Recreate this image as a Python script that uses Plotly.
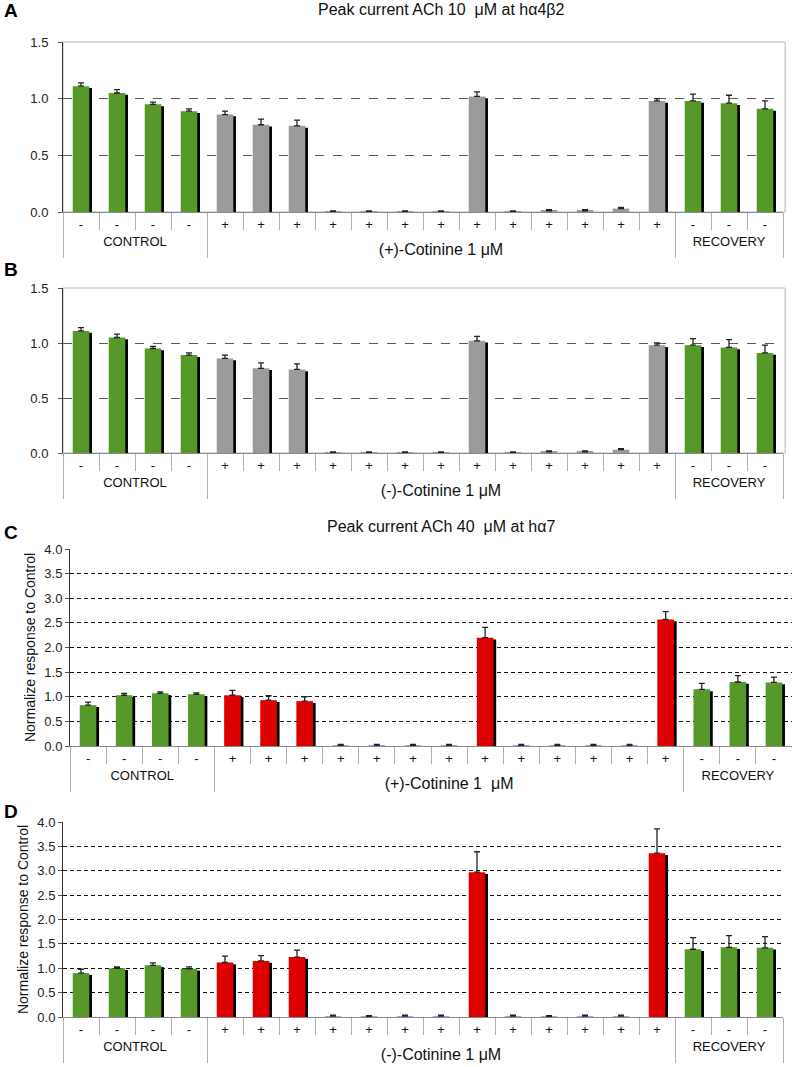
import plotly.graph_objects as go

# ---------------- data ----------------
n_control, n_cot, n_rec = 4, 13, 3
treat = ["-"] * n_control + ["+"] * n_cot + ["-"] * n_rec

a_vals = [1.11, 1.05, 0.95, 0.89, 0.86, 0.77, 0.76, 0.005, 0.005, 0.005, 0.005,
          1.02, 0.005, 0.01, 0.01, 0.03, 0.98, 0.98, 0.96, 0.91]
a_err = [0.03, 0.03, 0.02, 0.02, 0.03, 0.05, 0.05, 0.005, 0.005, 0.005, 0.005,
         0.04, 0.005, 0.01, 0.01, 0.01, 0.02, 0.06, 0.07, 0.07]

b_vals = [1.11, 1.05, 0.95, 0.89, 0.86, 0.77, 0.76, 0.005, 0.005, 0.005, 0.005,
          1.02, 0.005, 0.01, 0.01, 0.03, 0.98, 0.98, 0.96, 0.91]
b_err = [0.03, 0.03, 0.02, 0.02, 0.03, 0.05, 0.05, 0.005, 0.005, 0.005, 0.005,
         0.04, 0.005, 0.01, 0.01, 0.01, 0.02, 0.06, 0.07, 0.07]

c_vals = [0.83, 1.03, 1.07, 1.05, 1.03, 0.93, 0.91, 0.01, 0.01, 0.01, 0.01,
          2.20, 0.01, 0.01, 0.01, 0.01, 2.57, 1.15, 1.30, 1.29]
c_err = [0.06, 0.04, 0.03, 0.03, 0.10, 0.09, 0.09, 0.02, 0.02, 0.02, 0.02,
         0.21, 0.02, 0.02, 0.02, 0.02, 0.16, 0.12, 0.13, 0.11]

d_vals = [0.90, 1.00, 1.06, 0.99, 1.12, 1.15, 1.23, 0.02, 0.01, 0.02, 0.02,
          2.97, 0.02, 0.01, 0.02, 0.02, 3.36, 1.39, 1.43, 1.42]
d_err = [0.08, 0.03, 0.05, 0.04, 0.13, 0.11, 0.14, 0.02, 0.02, 0.02, 0.02,
         0.42, 0.02, 0.02, 0.02, 0.02, 0.50, 0.24, 0.24, 0.23]

titles = ["Peak current ACh 10 \u00a0μM at hα4β2", "Peak current ACh 40 \u00a0μM at hα7"]
cot_labels = ["(+)-Cotinine 1 μM", "(-)-Cotinine 1 μM", "(+)-Cotinine 1 \u00a0μM", "(-)-Cotinine 1 μM"]
ytitle = "Normalize response to Control"
yticks_ab = [0.0, 0.5, 1.0, 1.5]
yticks_cd = [0.0, 0.5, 1.0, 1.5, 2.0, 2.5, 3.0, 3.5, 4.0]
grid_cd = [0.5, 1.0, 1.5, 2.0, 2.5, 3.0, 3.5]

# ---------------- style ----------------
FONT = "Liberation Sans, Arial, sans-serif"
GREEN = "#57982a"
GRAY = "#9b9b9b"
RED = "#dc0000"
LAV = "#a0a0f0"
W, H = 793, 1067

def px_x(p):
    return p / W

def px_y(p):
    return 1 - p / H

def make_x(cot_label):
    zw = "\u200b"  # zero-width marks keep repeated +/- categories distinct
    groups, subs = [], []
    for i, t in enumerate(treat):
        if i < n_control:
            g = "CONTROL"
        elif i < n_control + n_cot:
            g = '<span style="font-size:16px;baseline-shift:-9px">' + cot_label + "</span>"
        else:
            g = "RECOVERY"
        groups.append(g)
        subs.append(t + zw * i)
    return [groups, subs]

fig = go.Figure()

panels = [
    (a_vals, a_err, "ab", 1.5),
    (b_vals, b_err, "ab", 1.5),
    (c_vals, c_err, "cd", 4.0),
    (d_vals, d_err, "cd", 4.0),
]
# pixel geometry of each plot area: (left, right, top, bottom)
geo = [(63, 783, 42, 212), (63, 783, 288, 453), (70, 792, 549, 746), (63, 783, 822, 1017)]

BW = 0.46
for k, (vals, err, kind, ymax) in enumerate(panels):
    xs = make_x(cot_labels[k])
    sfx = "" if k == 0 else str(k + 1)
    l, r, t, b = geo[k]
    drop = 1.8 * ymax / (b - t)
    if kind == "ab":
        colors = [GRAY if tr == "+" else GREEN for tr in treat]
    else:
        colors = [(LAV if v < 0.1 else RED) if tr == "+" else GREEN for tr, v in zip(treat, vals)]
    shadow = [max(v - drop, 0) if v >= 0.1 else 0 for v in vals]
    if kind == "cd":
        # empty carrier trace so that the overlaid grid axis gets drawn
        fig.add_trace(go.Scatter(x=xs, y=[None] * len(vals), mode="markers",
                                 xaxis="x" + sfx, yaxis="y" + str(k + 3),
                                 showlegend=False, hoverinfo="skip"))
    fig.add_trace(go.Bar(x=xs, y=shadow, width=BW, offset=-BW / 2 + 0.075,
                         marker=dict(color="#000000", line=dict(width=0)),
                         xaxis="x" + sfx, yaxis="y" + sfx, showlegend=False, hoverinfo="skip"))
    fig.add_trace(go.Bar(x=xs, y=vals, width=BW,
                         marker=dict(color=colors, line=dict(width=0)),
                         error_y=dict(type="data", symmetric=False, array=err,
                                      arrayminus=[0] * len(err), color="#222222",
                                      thickness=1.3, width=3),
                         xaxis="x" + sfx, yaxis="y" + sfx, showlegend=False))

layout = dict(
    width=W, height=H, margin=dict(l=0, r=0, t=0, b=0, autoexpand=False),
    paper_bgcolor="white", plot_bgcolor="white",
    barmode="overlay", font=dict(family=FONT, color="#111111"),
    annotations=[], shapes=[],
)

n_all = len(treat)
for k in range(4):
    sfx = "" if k == 0 else str(k + 1)
    l, r, t, b = geo[k]
    kind = panels[k][2]
    ymax = panels[k][3]
    layout["xaxis" + sfx] = dict(
        domain=[px_x(l), px_x(r)], anchor="y" + sfx, type="multicategory",
        range=[-0.5, n_all - 0.5], automargin=False,
        showline=True, linecolor="#8a8a8a", linewidth=1,
        ticks="outside", ticklen=17, tickcolor="#b0b0b0", tickwidth=1,
        tickangle=0,
        showdividers=True, dividercolor="#b0b0b0", dividerwidth=1,
        tickfont=dict(size=13, color="#111111", family=FONT),
        showgrid=False, fixedrange=True,
    )
    ya = dict(
        domain=[px_y(b), px_y(t)], anchor="x" + sfx, range=[0, ymax], automargin=False,
        tickmode="array", tickvals=yticks_ab if kind == "ab" else yticks_cd,
        tickformat=".1f", showline=True, linecolor="#333333", linewidth=1,
        ticks="outside", ticklen=4, tickcolor="#555555",
        tickfont=dict(size=13, color="#222222", family=FONT),
        zeroline=False, fixedrange=True,
    )
    if kind == "ab":
        ya.update(showgrid=True, gridcolor="#5a5a5a", griddash="dash", gridwidth=1,
                  ticklabelstandoff=7)
        layout["shapes"].append(dict(type="rect", xref="x" + sfx + " domain", yref="y" + sfx + " domain",
                                     x0=0, x1=1.003, y0=0, y1=1, line=dict(color="#b5b5b5", width=1),
                                     layer="below"))
    else:
        ya.update(showgrid=False,
                  title=dict(text=ytitle, font=dict(size=14, color="#111111", family=FONT), standoff=5))
        gsfx = str(k + 3)
        layout["yaxis" + gsfx] = dict(
            overlaying="y" + sfx, anchor="x" + sfx, range=[0, ymax], tickmode="array",
            tickvals=grid_cd, showgrid=True, gridcolor="#111111", griddash="4px,3px",
            gridwidth=1.4, showticklabels=False, ticks="", showline=False, zeroline=False,
            automargin=False, fixedrange=True,
        )
    layout["yaxis" + sfx] = ya

letters = [("A", 11), ("B", 269), ("C", 532), ("D", 811)]
for lt, yc in letters:
    layout["annotations"].append(dict(text="<b>" + lt + "</b>", x=0.003, y=px_y(yc), xref="paper", yref="paper",
                                      xanchor="left", yanchor="middle", showarrow=False,
                                      font=dict(size=19, color="#000000", family=FONT)))
for txt, yc in [(titles[0], 10), (titles[1], 527)]:
    layout["annotations"].append(dict(text=txt, x=px_x(441), y=px_y(yc), xref="paper", yref="paper",
                                      xanchor="center", yanchor="middle", showarrow=False,
                                      font=dict(size=16, color="#111111", family=FONT)))

fig.update_layout(**layout)
fig.write_html("out.html", config={"displayModeBar": False},
               post_script="document.body.style.margin='0px';")
